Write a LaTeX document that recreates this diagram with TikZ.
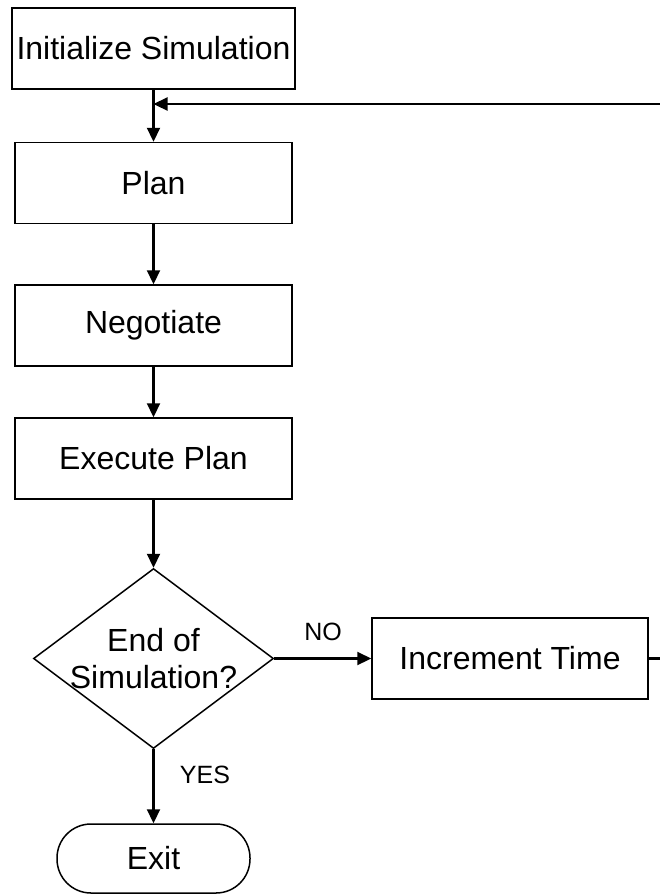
\documentclass[tikz,border=0pt]{standalone}
\usepackage{fontspec}
\setmainfont{Liberation Sans}
\usetikzlibrary{arrows.meta,shapes.geometric}
\begin{document}
\begin{tikzpicture}[x=1pt,y=-1pt,
  box/.style={draw, line width=1.5pt, inner sep=0pt, minimum height=81pt,
    font=\fontsize{32}{37}\selectfont},
  lbl/.style={inner sep=0pt, font=\fontsize{25}{30}\selectfont},
  arr/.style={line width=2.2pt, -{Triangle[length=14pt,width=13pt]}},
  plain/.style={line width=2.2pt}]
\useasboundingbox (0,0) rectangle (660,895);
\node[box, minimum width=283pt] (init) at (153.5,48.5) {Initialize Simulation};
\node[box, minimum width=277pt] (plan) at (153.5,183) {Plan};
\node[box, minimum width=277pt] (nego) at (153.5,325.5) {Negotiate};
\node[box, minimum width=277pt] (exec) at (153.5,458.5) {Execute Plan};
\node[diamond, draw, line width=1.5pt, inner sep=0pt, minimum width=240pt, minimum height=180pt] (dec) at (153.5,658.5) {};
\node[align=center, inner sep=0pt, font=\fontsize{32}{37}\selectfont] (dectext) at (153.5,658.5) {End of\\Simulation?};
\node[box, minimum width=276pt] (inc) at (510,658.5) {Increment Time};
\node[draw, line width=1.5pt, rounded corners=34pt, inner sep=0pt, minimum width=193pt, minimum height=69pt, font=\fontsize{32}{37}\selectfont] (exit) at (153.5,858.5) {Exit};
\coordinate (loopin) at (662,104);
\coordinate (join) at (153.5,104);
\coordinate (incout) at (662,658.5);
\draw[arr] (init.south) -- (plan.north);
\draw[arr] (loopin) -- (join);
\draw[arr] (plan.south) -- (nego.north);
\draw[arr] (nego.south) -- (exec.north);
\draw[arr] (exec.south) -- (dec.north);
\draw[arr] (dec.east) -- (inc.west);
\draw[arr] (dec.south) -- (exit.north);
\draw[plain] (inc.east) -- (incout);
\node[lbl] (no) at (323,632) {NO};
\node[lbl] (yes) at (205,775) {YES};
\end{tikzpicture}
\end{document}
